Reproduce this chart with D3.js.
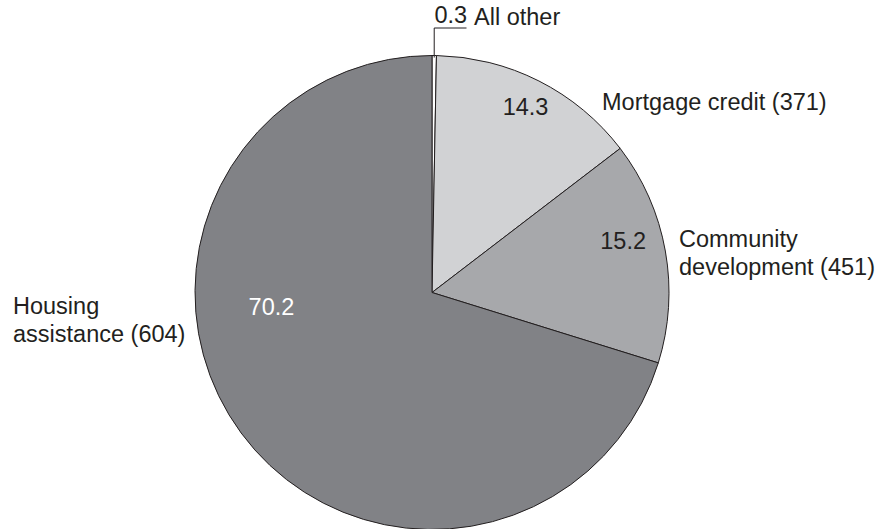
<!DOCTYPE html>
<html>
<head>
<meta charset="utf-8">
<script src="https://cdn.jsdelivr.net/npm/d3@7"></script>
<style>
  html, body { margin: 0; padding: 0; background: #ffffff; }
  svg { display: block; }
  text { font-family: "Liberation Sans", Arial, Helvetica, sans-serif; fill: #231f20; }
</style>
</head>
<body>
<svg id="chart" width="889" height="529"></svg>
<script>
// ---- data ----
const categories = ["All other", "Mortgage credit", "Community development", "Housing assistance"];
const shares = [0.3, 14.3, 15.2, 70.2];
const amounts = [null, 371, 451, 604];

// ---- styling / layout (not data) ----
const colors = ["#ffffff", "#d1d2d4", "#a7a8ab", "#818286"];
const valueColors = ["#231f20", "#231f20", "#231f20", "#ffffff"];
const outerLabelLines = [["All other"], ["Mortgage credit (371)"], ["Community", "development (451)"], ["Housing", "assistance (604)"]];
// inner value label placement: [angle in degrees (null = mid-angle), radius fraction]
const valuePlacement = [null, [null, 0.875], [75, 0.835], [265, 0.68]];
// outer label anchor offsets from the pie centre
const outerOffsets = [[42, -268], [170, -183], [247, -46], [-419, 21]];

const W = 889, H = 529;
const cx = 432, cy = 292.5, R = 237;
const fontSize = 23.5, lineH = 28;

const svg = d3.select("#chart");
const g = svg.append("g").attr("transform", `translate(${cx},${cy})`);

const data = categories.map((c, i) => ({ cat: c, share: shares[i], amount: amounts[i], i }));
const pie = d3.pie().value(d => d.share).sort(null).startAngle(0).endAngle(2 * Math.PI);
const arcs = pie(data);
const arc = d3.arc().innerRadius(0).outerRadius(R);

g.selectAll("path.slice")
  .data(arcs)
  .join("path")
  .attr("class", "slice")
  .attr("d", arc)
  .attr("fill", d => colors[d.data.i])
  .attr("stroke", "#231f20")
  .attr("stroke-width", 1)
  .attr("stroke-linejoin", "round");

// inner value labels
arcs.forEach(a => {
  const p = valuePlacement[a.data.i];
  if (!p) return;
  const ang = p[0] === null ? (a.startAngle + a.endAngle) / 2 : p[0] * Math.PI / 180;
  const r = p[1] * R;
  g.append("text")
    .attr("x", r * Math.sin(ang))
    .attr("y", -r * Math.cos(ang))
    .attr("text-anchor", "middle")
    .attr("dominant-baseline", "central")
    .attr("font-size", fontSize)
    .style("fill", valueColors[a.data.i])
    .text(a.data.share.toFixed(1));
});

// small slice: leader line with underlined value
const small = arcs[0];
const midA = (small.startAngle + small.endAngle) / 2;
const lx = (R - 2) * Math.sin(midA);
const ly = -(R - 2) * Math.cos(midA);
const lineY = -264.5;
g.append("path")
  .attr("d", `M${lx},${ly}V${lineY}H${34.5}`)
  .attr("fill", "none")
  .attr("stroke", "#231f20")
  .attr("stroke-width", 1);
g.append("text")
  .attr("x", (lx + 34.5) / 2 + 0.5)
  .attr("y", lineY - 5)
  .attr("text-anchor", "middle")
  .attr("font-size", fontSize)
  .text(small.data.share.toFixed(1));

// outer category labels
arcs.forEach(a => {
  const off = outerOffsets[a.data.i];
  const t = g.append("text")
    .attr("x", off[0])
    .attr("y", off[1])
    .attr("font-size", fontSize);
  outerLabelLines[a.data.i].forEach((ln, k) => {
    t.append("tspan").attr("x", off[0]).attr("dy", k === 0 ? 0 : lineH).text(ln);
  });
});
</script>
</body>
</html>
